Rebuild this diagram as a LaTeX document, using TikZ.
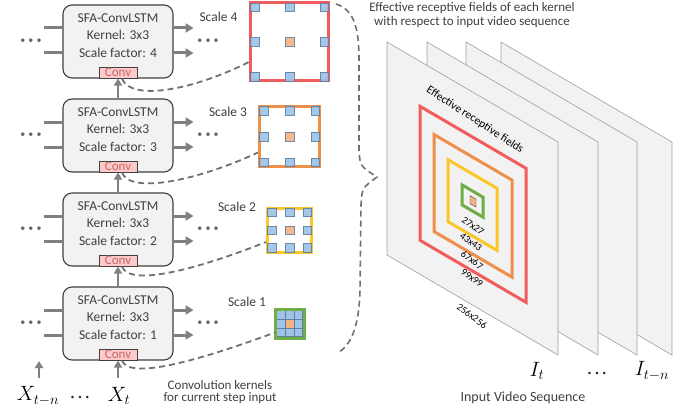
\documentclass[tikz,border=0pt]{standalone}
\usepackage{fontspec}
\setmainfont{Carlito}
\usetikzlibrary{arrows.meta}
\definecolor{txt}{HTML}{404040}
\definecolor{arr}{HTML}{808080}
\definecolor{dashc}{HTML}{707070}
\definecolor{boxfill}{HTML}{F2F2F2}
\definecolor{convfill}{HTML}{FFC9C9}
\definecolor{convtxt}{HTML}{C06868}
\definecolor{kblue}{HTML}{9DC3E6}
\definecolor{kblueb}{HTML}{5F7F9F}
\definecolor{korange}{HTML}{F4B183}
\definecolor{cred}{HTML}{F25C5C}
\definecolor{corange}{HTML}{EE8F4A}
\definecolor{cyellow}{HTML}{FAC72A}
\definecolor{cgreen}{HTML}{70AD47}
\definecolor{planefill}{HTML}{F2F2F2}
\definecolor{planeb}{HTML}{9AA0A8}
\newcommand{\mydots}{•\kern3.2pt•\kern3.2pt•}
\newcommand{\mysmalldots}{•\kern4pt•\kern4pt•}
\begin{document}
\begin{tikzpicture}[x=1pt,y=-1pt,
  lstmbox/.style={draw=txt, fill=boxfill, rounded corners=9pt, line width=1.1pt,
    minimum width=110pt, minimum height=73pt, inner sep=0pt},
  lstmtext/.style={text=txt, font=\fontsize{13.5}{17.5}\selectfont, align=center, inner sep=0pt},
  convbox/.style={draw=txt, fill=convfill, line width=0.8pt, minimum width=38pt,
    minimum height=11pt, inner sep=0pt, text=convtxt, font=\fontsize{13}{11}\selectfont, anchor=south},
  flowarrow/.style={draw=arr, line width=3pt, -{Triangle[length=8pt,width=9pt]}},
  flowthin/.style={draw=arr, line width=2.5pt, -{Triangle[length=7pt,width=8pt]}},
  sideline/.style={draw=arr, line width=3pt},
  dotsnode/.style={text=txt!80, font=\fontsize{10}{10}\selectfont, inner sep=0pt},
  mathdots/.style={text=black!85, font=\fontsize{7}{7}\selectfont, inner sep=0pt},
  lbl/.style={text=txt, font=\fontsize{13.5}{14}\selectfont, inner sep=0pt},
  mathlbl/.style={text=black, font=\fontsize{20}{20}\selectfont, inner sep=0pt},
  kdash/.style={draw=dashc, line width=1.8pt, dash pattern=on 6pt off 4pt},
  kframe/.style={draw=#1, line width=3pt, inner sep=0pt, fill=white},
  ksq/.style={draw=kblueb, fill=kblue, line width=0.5pt, opacity=0.9},
  kctr/.style={draw=kblueb, fill=korange, line width=0.5pt, opacity=0.9},
  planestyle/.style={fill=planefill, draw=planeb, line width=0.6pt},
  dimlbl/.style={text=black, font=\fontsize{10}{10}\selectfont, inner sep=0pt, rotate=-37},
]
\path[use as bounding box, fill=white] (0,0) rectangle (694,412);

% ---------- LSTM boxes ----------
\node[lstmbox] (b4) at (118,41.5) {};
\node[lstmtext] (t4) at (118,35.5) {SFA-ConvLSTM\\Kernel: 3x3\\Scale factor: 4};
\node[convbox] (c4) at (b4.south) {Conv};
\node[lstmbox] (b3) at (118,135.5) {};
\node[lstmtext] (t3) at (118,129.5) {SFA-ConvLSTM\\Kernel: 3x3\\Scale factor: 3};
\node[convbox] (c3) at (b3.south) {Conv};
\node[lstmbox] (b2) at (118,229.5) {};
\node[lstmtext] (t2) at (118,223.5) {SFA-ConvLSTM\\Kernel: 3x3\\Scale factor: 2};
\node[convbox] (c2) at (b2.south) {Conv};
\node[lstmbox] (b1) at (118,323.5) {};
\node[lstmtext] (t1) at (118,317.5) {SFA-ConvLSTM\\Kernel: 3x3\\Scale factor: 1};
\node[convbox] (c1) at (b1.south) {Conv};

\foreach \bx in {b4,b3,b2,b1} {
  \draw[sideline] ([xshift=-18pt,yshift=13.5pt]\bx.west) -- ([yshift=13.5pt]\bx.west);
  \draw[sideline] ([xshift=-18pt,yshift=-11.5pt]\bx.west) -- ([yshift=-11.5pt]\bx.west);
  \draw[flowarrow] ([yshift=13.5pt]\bx.east) -- ([xshift=20pt,yshift=13.5pt]\bx.east);
  \draw[flowarrow] ([yshift=-11.5pt]\bx.east) -- ([xshift=20pt,yshift=-11.5pt]\bx.east);
}
\node[dotsnode] (dl4) at (31,41.5) {\mydots};
\node[dotsnode] (dr4) at (208,41.5) {\mydots};
\node[dotsnode] (dl3) at (31,135.5) {\mydots};
\node[dotsnode] (dr3) at (208,135.5) {\mydots};
\node[dotsnode] (dl2) at (31,229.5) {\mydots};
\node[dotsnode] (dr2) at (208,229.5) {\mydots};
\node[dotsnode] (dl1) at (31,323.5) {\mydots};
\node[dotsnode] (dr1) at (208,323.5) {\mydots};

\draw[flowthin] (b3.north) -- (c4.south);
\draw[flowthin] (b2.north) -- (c3.south);
\draw[flowthin] (b1.north) -- (c2.south);

% ---------- inputs ----------
\node[mathlbl] (xtn) at (38,396) {$X_{t-n}$};
\node[mathdots] (xdots) at (80,398) {\mysmalldots};
\node[mathlbl] (xt) at (119,396) {$X_t$};
\coordinate (xtnend) at (39,361);
\coordinate (xtnstart) at (39,378);
\coordinate (xtstart) at (118,378);
\draw[flowthin] (xtnstart) -- (xtnend);
\draw[flowthin] (xtstart) -- (c1.south);
\node[lbl, align=center, font=\fontsize{13}{12.5}\selectfont] (convlbl) at (220,392)
  {Convolution kernels\\for current step input};

% ---------- kernels ----------
\node[kframe=cred, minimum size=78pt] (k4) at (289.5,42) {};
\node[kframe=corange, minimum size=60pt] (k3) at (289.5,136.5) {};
\node[kframe=cyellow, minimum size=44pt] (k2) at (289.5,230) {};
\foreach \cy/\o in {42/34.75, 136.5/25.75, 230/17.75} {
  \foreach \dx/\dy in {-1/-1,0/-1,1/-1,-1/0,1/0,-1/1,0/1,1/1} {
    \draw[ksq] (289.5+\dx*\o-4.25,\cy+\dy*\o-4.25) rectangle +(8.5,8.5);
  }
  \draw[kctr] (289.5-4.25,\cy-4.25) rectangle +(8.5,8.5);
}
\node[kframe=cgreen, minimum size=26pt] (k1) at (289.5,323.5) {};
\foreach \i in {0,1,2} {
  \foreach \j in {0,1,2} {
    \draw[draw=kblueb, fill=kblue, line width=0.6pt] (276.5+\i*8.667,310.5+\j*8.667) rectangle +(8.667,8.667);
  }
}
\draw[draw=kblueb, fill=korange, line width=0.6pt] (285.167,319.167) rectangle +(8.667,8.667);
\draw[cgreen, line width=3pt] (k1.north west) rectangle (k1.south east);

\node[lbl] (s4) at (218.5,17) {Scale 4};
\node[lbl] (s3) at (228,112) {Scale 3};
\node[lbl] (s2) at (237,207) {Scale 2};
\node[lbl] (s1) at (247,302) {Scale 1};

% dashed links from Conv to kernels
\draw[kdash] ([xshift=4pt]c4.south) .. controls +(8,22) and +(-60,30) .. ([yshift=-20pt]k4.west);
\draw[kdash] ([xshift=4pt]c3.south) .. controls +(8,22) and +(-60,28) .. ([yshift=-16pt]k3.west);
\draw[kdash] ([xshift=4pt]c2.south) .. controls +(8,22) and +(-60,24) .. ([yshift=-12pt]k2.west);
\draw[kdash] ([xshift=4pt]c1.south) .. controls +(8,22) and +(-60,22) .. ([yshift=-9pt]k1.west);

% ---------- brace ----------
\draw[kdash, line width=1.6pt] (336,4) .. controls (355,10) and (359,30) .. (359,60)
  -- (359,150) .. controls (360,166) .. (377,177)
  .. controls (362,188) .. (361,205) -- (360,290)
  .. controls (359,330) and (350,345) .. (338,353);

\node[lbl, align=center, font=\fontsize{13}{14}\selectfont] (toplbl) at (472,15)
  {Effective receptive fields of each kernel\\with respect to input video sequence};

% ---------- planes ----------
\foreach \dx in {114,79,40,0} {
  \draw[planestyle] (387+\dx,42) -- (558+\dx,142) -- (558+\dx,355) -- (387+\dx,255) -- cycle;
}
\begin{scope}[shift={(387,42)}, yslant=-0.585]
  \draw[cred, line width=3pt] (33,45) rectangle (139,179);
  \draw[corange, line width=3pt] (47,65) rectangle (125,162);
  \draw[cyellow, line width=3pt] (61,82) rectangle (110,144);
  \draw[cgreen, line width=3pt] (75,99) rectangle (96,119);
  \draw[draw=txt, fill=korange, line width=0.4pt] (83,105) rectangle (89,113);
\end{scope}
\node[text=black, font=\fontsize{11.5}{11.5}\selectfont, inner sep=0pt, rotate=-33] (erf) at (475,120) {Effective receptive fields};
\node[dimlbl] (d27) at (473,226) {27x27};
\node[dimlbl] (d43) at (471,242) {43x43};
\node[dimlbl] (d67) at (472,260) {67x67};
\node[dimlbl] (d99) at (472,278) {99x99};
\node[dimlbl] (d256) at (472,316) {256x256};

\node[mathlbl] (it) at (537,371) {$I_t$};
\node[mathdots] (idots) at (597,374) {\mysmalldots};
\node[mathlbl] (itn) at (652,371) {$I_{t-n}$};
\node[lbl, font=\fontsize{14}{14}\selectfont] (ivs) at (523,398) {Input Video Sequence};
\end{tikzpicture}
\end{document}
